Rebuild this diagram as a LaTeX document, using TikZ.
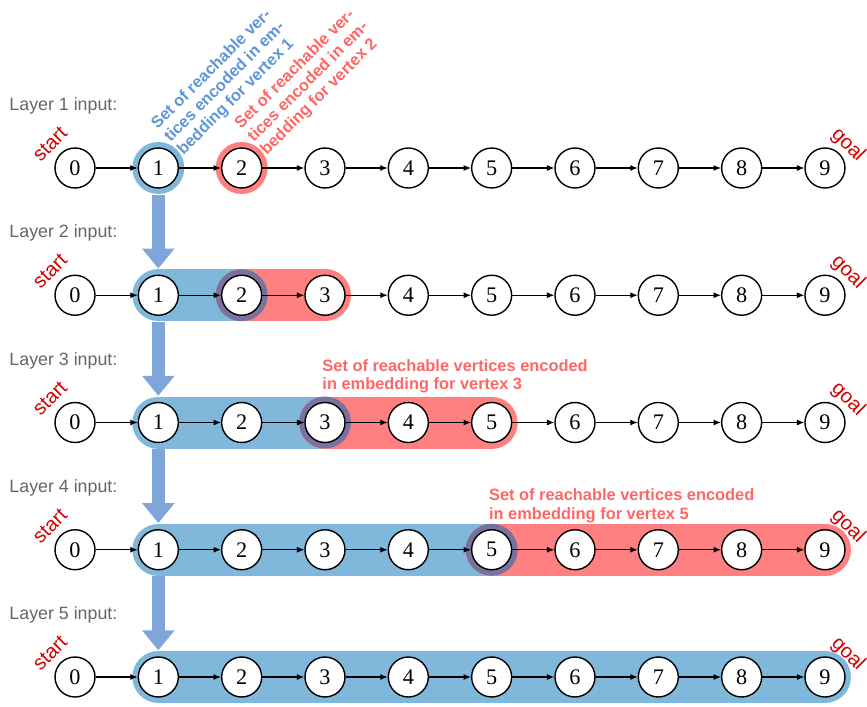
\documentclass[tikz,border=0pt]{standalone}
\usepackage{fontspec}
\setmainfont{Liberation Serif}
\setsansfont{Liberation Sans}
\usetikzlibrary{arrows.meta}
\usetikzlibrary{backgrounds}
\usetikzlibrary{calc}

\definecolor{bandblue}{RGB}{128,184,220}
\definecolor{bandred}{RGB}{255,128,128}
\definecolor{ringpurple}{RGB}{123,113,159}
\definecolor{arrowblue}{RGB}{126,166,216}
\definecolor{noteblue}{RGB}{96,150,216}
\definecolor{notered}{RGB}{255,102,102}
\definecolor{endred}{RGB}{212,0,0}
\definecolor{labelgray}{RGB}{102,102,102}

\begin{document}
\begin{tikzpicture}[x=0.015cm, y=-0.015cm,
    vertex/.style={circle, draw=black, fill=white, line width=0.6pt, minimum size=0.6cm, inner sep=0pt, font=\fontsize{9.5}{10}\selectfont},
    edge/.style={-{Latex[length=1.1mm,width=0.9mm]}, line width=0.45pt},
    layerlabel/.style={anchor=west, inner sep=0pt, text=labelgray, font=\sffamily\fontsize{7.6}{9}\selectfont},
    endlabel/.style={inner sep=0pt, text=endred, font=\sffamily\fontsize{8.6}{10}\selectfont},
    band/.style={line width=0.78cm, line cap=round},
    note/.style={inner sep=0pt, align=left, font=\sffamily\bfseries\fontsize{7}{7.8}\selectfont},
    down/.style={draw=arrowblue, line width=0.19cm, -{Triangle[width=0.47cm,length=0.3cm]}, shorten <=0.09cm, shorten >=0.09cm}]
  \useasboundingbox (0,0) rectangle (867,707);

  %rows of the path graph
  \foreach \r in {1,...,5} {
    \pgfmathsetmacro\rowy{168+127.25*(\r-1)}
    \node[layerlabel] (layer\r) at (9,\rowy-62) {Layer \r{} input:};
    \foreach \i in {0,...,9}
      \node[vertex] (n\r\i) at (75+83.33*\i,\rowy) {\i};
    \foreach \i [count=\j from 1] in {0,...,8}
      \draw[edge] (n\r\i) -- (n\r\j);
    \node[endlabel, rotate=45] (start\r) at ($(n\r0)+(-25,-24)$) {start};
    \node[endlabel, rotate=-45] (goal\r) at ($(n\r9)+(23,-23)$) {goal};
  }

  %reachable sets
  \begin{scope}[on background layer]
    \fill[bandblue] (n11) circle (0.39cm);
    \fill[bandred] (n12) circle (0.39cm);
    \foreach \r/\k/\m in {2/2/3, 3/3/5, 4/5/9} {
      \draw[band, bandblue] (n\r1.center) -- (n\r\k.center);
      \draw[band, bandred] (n\r\k.center) -- (n\r\m.center);
      \fill[ringpurple] (n\r\k) circle (0.39cm);
    }
    \draw[band, bandblue] (n51.center) -- (n59.center);
  \end{scope}

  %layer to layer
  \foreach \r [count=\s from 2] in {1,...,4}
    \draw[down] (n\r1.south) -- (n\s1.north);

  %notes
  \node[note, text=noteblue, rotate=45, anchor=west] (note1) at ($(n11)+(9,-28)$) {Set of reachable ver-\\tices encoded in em-\\bedding for vertex 1};
  \node[note, text=notered, rotate=45, anchor=west] (note2) at ($(n12)+(9,-28)$) {Set of reachable ver-\\tices encoded in em-\\bedding for vertex 2};
  \node[note, text=notered, anchor=west] (note3) at ($(n33)+(-3,-46)$) {Set of reachable vertices encoded\\in embedding for vertex 3};
  \node[note, text=notered, anchor=west] (note4) at ($(n45)+(-3,-44)$) {Set of reachable vertices encoded\\in embedding for vertex 5};
\end{tikzpicture}
\end{document}
